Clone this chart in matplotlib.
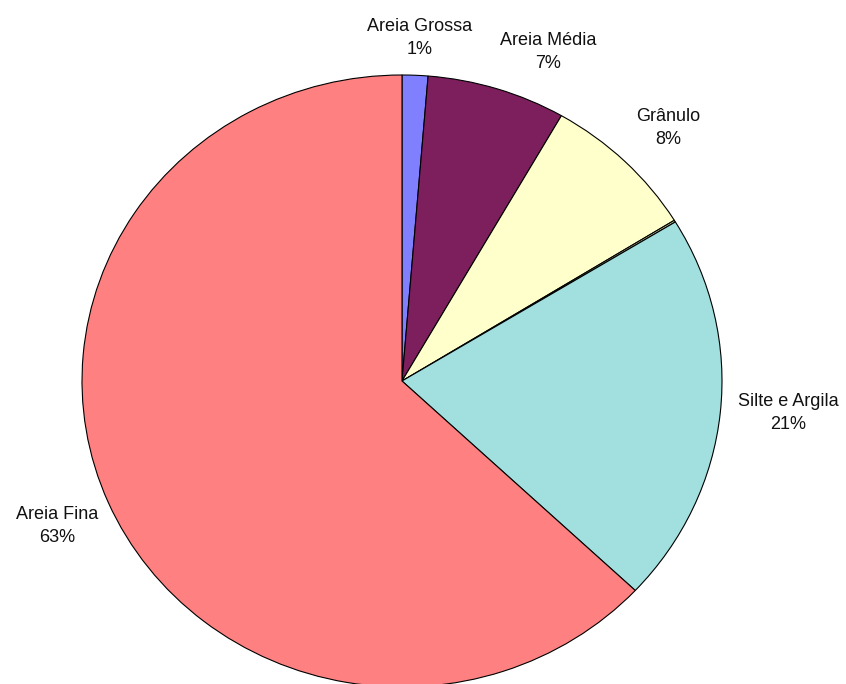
import matplotlib
matplotlib.use('Agg')
import matplotlib.pyplot as plt

plt.rcParams['font.family'] = ['Liberation Sans', 'DejaVu Sans']

# fractions (clockwise from top)
categorias = ['Areia Grossa', 'Areia Média', 'Grânulo', '', 'Silte e Argila', 'Areia Fina']
valores = [1.3, 7.0, 7.9, 0.1, 20.7, 63.0]
rotulos = ['1%', '7%', '8%', '', '21%', '63%']
cores = ['#8080ff', '#7c1f5c', '#ffffcc', '#d0d0a0', '#a2dfdf', '#ff8080']

# label positions in pixels (center of text block)
pos_rotulos = [(420, 38), (548, 52), (668, 128), None, (788, 413), (57, 526)]

W, H = 846, 684
cx, cy, rx, ry = 402, 381, 320, 306

fig = plt.figure(figsize=(W / 100, H / 100), dpi=100)
ax = fig.add_axes([0, 0, 1, 1])
ax.pie(valores, colors=cores, startangle=90, counterclock=False,
       wedgeprops=dict(edgecolor='black', linewidth=0.8))
ax.set_aspect('auto')
ax.set_xlim(-cx / rx, (W - cx) / rx)
ax.set_ylim((cy - H) / ry, cy / ry)
ax.axis('off')

for nome, pct, p in zip(categorias, rotulos, pos_rotulos):
    if p is None:
        continue
    fig.text(p[0] / W, 1 - p[1] / H, nome + '\n' + pct, ha='center', va='center',
             fontsize=13, color='#111111', linespacing=1.45)

fig.savefig('out.png', dpi=100, facecolor='white')
